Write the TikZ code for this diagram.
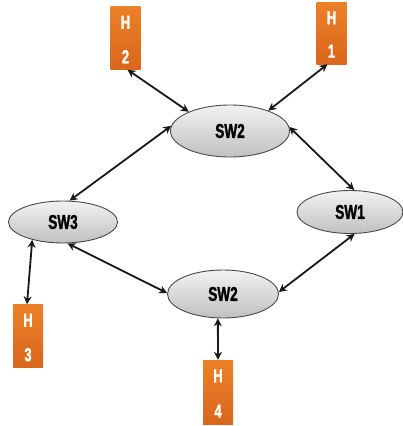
\documentclass[tikz,border=0pt]{standalone}
\usepackage{fontspec}
\setmainfont{Liberation Sans}
\newfontfamily\narrowfont[FakeStretch=0.68,FakeBold=1.4]{Liberation Sans Bold}
\usetikzlibrary{arrows.meta,shapes.geometric,shadings}
\definecolor{hostTop}{HTML}{EC8128}
\definecolor{hostBot}{HTML}{D9661C}
\definecolor{swTop}{HTML}{F2F2F2}
\definecolor{swBot}{HTML}{C0C0C0}
\definecolor{swEdge}{HTML}{4A4A4A}
\tikzset{
  switch/.style={ellipse, draw=swEdge, line width=0.9pt, inner sep=0pt,
    top color=swTop, bottom color=swBot,
    font=\narrowfont\fontsize{20}{20}\selectfont, text=black},
  host/.style={rectangle, inner sep=0pt, minimum width=30pt,
    top color=hostTop, bottom color=hostBot},
  hostlabel/.style={text=white, font=\narrowfont\fontsize{19}{19}\selectfont},
  link/.style={{Stealth[length=8pt,width=8pt]}-{Stealth[length=8pt,width=8pt]},
    line width=1.8pt, black!90}
}
\begin{document}
\begin{tikzpicture}[x=1pt,y=-1pt]
\useasboundingbox[fill=white] (0,0) rectangle (403,426);

% switches
\node[switch, minimum width=119pt, minimum height=52pt] (swt) at (230,131) {SW2};
\node[switch, minimum width=109pt, minimum height=42pt] (sw3) at (63,222) {SW3};
\node[switch, minimum width=106pt, minimum height=43pt] (sw1) at (350,212) {SW1};
\node[switch, minimum width=111pt, minimum height=48pt] (swb) at (223,294) {SW2};

% hosts
\node[host, minimum height=63pt] (h2) at (125.5,38) {};
\node[host, minimum height=62pt] (h1) at (331.5,33) {};
\node[host, minimum height=63pt] (h3) at (28,336) {};
\node[host, minimum height=64pt] (h4) at (218,392) {};

\foreach \h/\d in {h1/1,h2/2,h3/3,h4/4}{
  \node[hostlabel] (\h-a) at ([yshift=-16pt]\h.north) {H};
  \node[hostlabel] (\h-b) at ([yshift=13pt]\h.south) {\d};
}

% links
\draw[link] ([xshift=2pt]h2.south) -- (swt.155);
\draw[link] ([xshift=-4pt]h1.south) -- (swt.28);
\draw[link] (swt.175) -- (sw3.73);
\draw[link] (swt.4) -- (sw1.79);
\draw[link] (sw3.210) -- ([xshift=-1pt]h3.north);
\draw[link] (sw3.282) -- (swb.179);
\draw[link] (sw1.282) -- (swb.2);
\draw[link] (swb.258) -- (h4.north);
\end{tikzpicture}
\end{document}
